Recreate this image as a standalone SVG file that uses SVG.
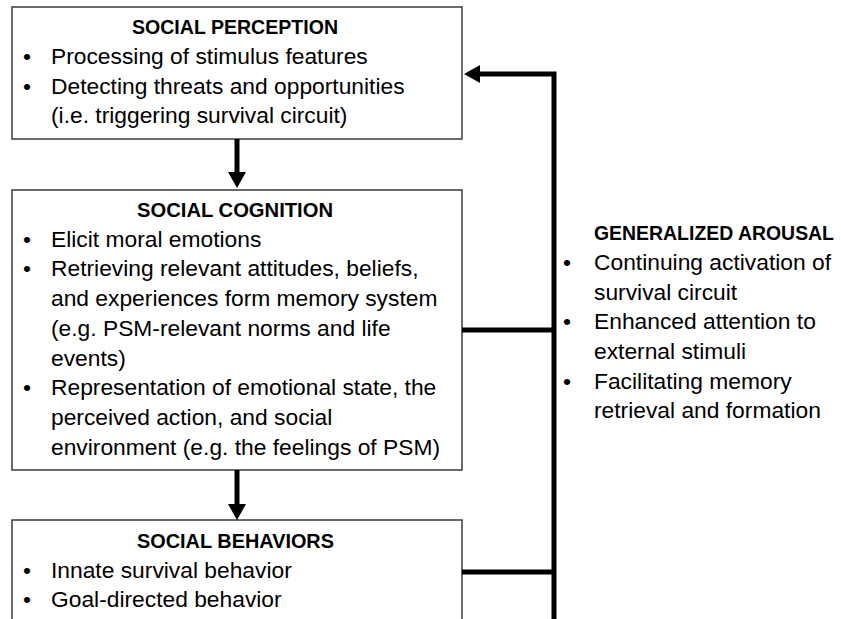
<svg xmlns="http://www.w3.org/2000/svg" width="841" height="619" viewBox="0 0 841 619">
<style>
.box{fill:#fff;stroke:#3a3a3a;stroke-width:1.5}
.t{font-family:"Liberation Sans",Arial,sans-serif;font-size:22.8px;fill:#000}
.h{font-family:"Liberation Sans",Arial,sans-serif;font-size:21px;font-weight:bold;fill:#000}
.c{fill:none;stroke:#000;stroke-width:5}
</style>
<defs>
<marker id="ah" viewBox="0 0 16 18" refX="0" refY="9" markerWidth="16" markerHeight="18" markerUnits="userSpaceOnUse" orient="auto">
<path d="M0,0 L16,9 L0,18 z" fill="#000"/>
</marker>
</defs>
<rect width="841" height="619" fill="#fff"/>
<g id="perception">
<rect class="box" x="12" y="7" width="450" height="132"/>
<text class="h" x="132" y="34" textLength="206" lengthAdjust="spacingAndGlyphs">SOCIAL PERCEPTION</text>
<text class="t" x="23" y="64">•</text><text class="t" x="51" y="64">Processing of stimulus features</text>
<text class="t" x="23" y="94">•</text><text class="t" x="51" y="94">Detecting threats and opportunities</text>
<text class="t" x="51" y="123">(i.e. triggering survival circuit)</text>
</g>
<g id="cognition">
<rect class="box" x="12" y="190" width="450" height="280"/>
<text class="h" x="137" y="217" textLength="196" lengthAdjust="spacingAndGlyphs">SOCIAL COGNITION</text>
<text class="t" x="23" y="246.7">•</text><text class="t" x="51" y="246.7">Elicit moral emotions</text>
<text class="t" x="23" y="276.4">•</text><text class="t" x="51" y="276.4">Retrieving relevant attitudes, beliefs,</text>
<text class="t" x="51" y="306">and experiences form memory system</text>
<text class="t" x="51" y="335.8">(e.g. PSM-relevant norms and life</text>
<text class="t" x="51" y="365.5">events)</text>
<text class="t" x="23" y="395.2">•</text><text class="t" x="51" y="395.2">Representation of emotional state, the</text>
<text class="t" x="51" y="425">perceived action, and social</text>
<text class="t" x="51" y="454.6">environment (e.g. the feelings of PSM)</text>
</g>
<g id="behaviors">
<rect class="box" x="12" y="520" width="450" height="130"/>
<text class="h" x="137" y="548" textLength="197" lengthAdjust="spacingAndGlyphs">SOCIAL BEHAVIORS</text>
<text class="t" x="23" y="578">•</text><text class="t" x="51" y="578">Innate survival behavior</text>
<text class="t" x="23" y="607">•</text><text class="t" x="51" y="607">Goal-directed behavior</text>
</g>
<g id="arousal">
<text class="h" x="594" y="240" style="font-size:19.5px" textLength="240" lengthAdjust="spacingAndGlyphs">GENERALIZED AROUSAL</text>
<text class="t" x="563" y="270">•</text><text class="t" x="594" y="270">Continuing activation of</text>
<text class="t" x="594" y="299.5">survival circuit</text>
<text class="t" x="563" y="329">•</text><text class="t" x="594" y="329">Enhanced attention to</text>
<text class="t" x="594" y="359">external stimuli</text>
<text class="t" x="563" y="388.5">•</text><text class="t" x="594" y="388.5">Facilitating memory</text>
<text class="t" x="594" y="418">retrieval and formation</text>
</g>
<g id="connectors">
<line class="c" x1="237" y1="139" x2="237" y2="172" marker-end="url(#ah)"/>
<line class="c" x1="237" y1="470" x2="237" y2="504" marker-end="url(#ah)"/>
<path class="c" d="M554,630 V74 H480" marker-end="url(#ah)"/>
<line class="c" x1="462" y1="330" x2="554" y2="330"/>
<line class="c" x1="462" y1="572" x2="554" y2="572"/>
</g>
</svg>
